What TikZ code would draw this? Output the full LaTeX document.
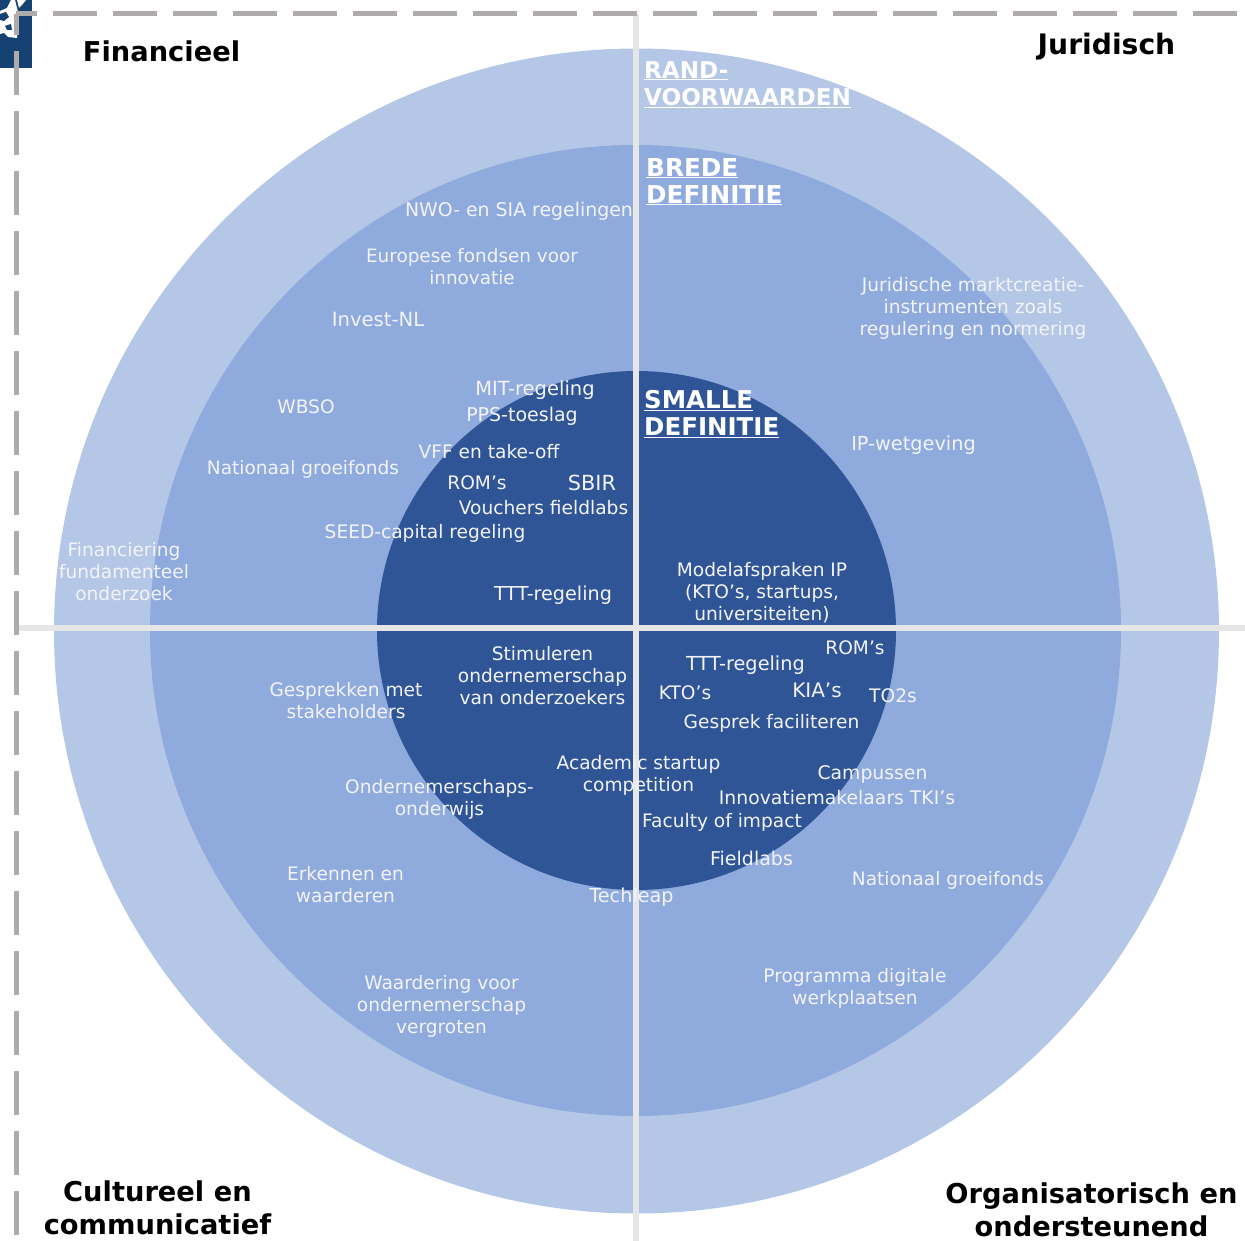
\documentclass[tikz,border=0pt]{standalone}
\usepackage{fontspec}
\setmainfont{DejaVu Sans}
\definecolor{outerc}{HTML}{B4C7E7}
\definecolor{midc}{HTML}{8FAADC}
\definecolor{innerc}{HTML}{2F5597}
\definecolor{axisc}{HTML}{E7E6E6}
\definecolor{dashc}{HTML}{AFABAB}
\definecolor{logoc}{HTML}{154273}
\definecolor{txtc}{HTML}{F2F4F9}
\tikzset{
  lbl/.style={text=txtc,align=center,inner sep=0pt,yshift=-1.2pt,font=\fontsize{18.6}{22}\selectfont},
  fs/.style={font=\fontsize{#1}{22}\selectfont},
  corner/.style={text=black,align=center,inner sep=0pt,font=\fontsize{27.3}{33}\selectfont\bfseries},
  head/.style={text=white,align=left,anchor=north west,inner sep=0pt,font=\fontsize{#1}{27}\selectfont\bfseries},
  axis/.style={draw=axisc,line width=5.5pt},
  frame/.style={draw=dashc,line width=5pt,dash pattern=on 44pt off 16pt,dash phase=23pt}
}
\begin{document}
\begin{tikzpicture}[x=1pt,y=-1pt]
\useasboundingbox (0,0) rectangle (1245,1241);
\fill[logoc] (0,0) rectangle (32,68);
\fill[white] (0,11) -- (7,8) -- (11,0) -- (15,0) -- (18,12) -- (17,38) -- (8,37) -- (4,33) -- (0,34) -- cycle;
\fill[white] (17,0) -- (26,0) -- (22,5) -- (19,8) -- cycle;
\fill[logoc] (0,14) -- (6,12) -- (9,17) -- (4,21) -- (0,20) -- cycle;
\fill[logoc] (5,26) -- (11,24) -- (12,30) -- (7,30) -- cycle;
\fill[outerc] (636.5,631) circle (582.5);
\fill[midc] (635.5,630.5) circle (485.5);
\fill[innerc] (636.5,630.5) circle (259.5);
\coordinate (top) at (636,14);
\coordinate (bot) at (636,1241);
\coordinate (lft) at (18,628);
\coordinate (rgt) at (1245,628);
\coordinate (corner) at (16,14);
\coordinate (frameb) at (16,1241);
\coordinate (framer) at (1245,14);
\draw[axis] (top) -- (bot);
\draw[axis] (lft) -- (rgt);
\draw[frame] (corner) -- (framer);
\draw[frame] (corner) -- (frameb);
\node[corner] (c1) at (161.5,51) {Financieel};
\node[corner,font=\fontsize{28.2}{33}\selectfont\bfseries] (c2) at (1106.5,46.5) {Juridisch};
\node[corner] (c3) at (157.5,1208) {Cultureel en\\communicatief};
\node[corner] (c4) at (1091.5,1210) {Organisatorisch en\\ondersteunend};
\node[head=23.1] (h1) at (644,61) {\underline{RAND-}\\\underline{VOORWAARDEN}};
\node[head=24.7] (h2) at (646,158) {\underline{BREDE}\\\underline{DEFINITIE}};
\node[head=24.5] (h3) at (644,390) {\underline{SMALLE}\\\underline{DEFINITIE}};
\node[lbl,fs=18.9] (a1) at (519,210) {NWO- en SIA regelingen};
\node[lbl,fs=18.4] (a2) at (472,265.5) {Europese fondsen voor\\innovatie};
\node[lbl,fs=19.6] (a3) at (378,318) {Invest-NL};
\node[lbl] (a4) at (306,406) {WBSO};
\node[lbl,fs=18.5] (a5) at (303,468) {Nationaal groeifonds};
\node[lbl] (a6) at (124,570) {Financiering\\fundamenteel\\onderzoek};
\node[lbl,fs=19.5] (a7) at (535,388.5) {MIT-regeling};
\node[lbl,fs=19] (a8) at (522,415) {PPS-toeslag};
\node[lbl] (a9) at (489,450) {VFF en take-off};
\node[lbl] (a10) at (477,482) {ROM’s};
\node[lbl,fs=20.8] (a11) at (592,482) {SBIR};
\node[lbl] (a12) at (543.5,506) {Vouchers fieldlabs};
\node[lbl] (a13) at (425,532) {SEED-capital regeling};
\node[lbl,fs=19.2] (a14) at (553,594) {TTT-regeling};
\node[lbl] (b1) at (973,307) {Juridische marktcreatie-\\instrumenten zoals\\regulering en normering};
\node[lbl,fs=19.3] (b2) at (913.5,443.5) {IP-wetgeving};
\node[lbl] (b3) at (762,591) {Modelafspraken IP\\(KTO’s, startups,\\universiteiten)};
\node[lbl] (c5) at (542.5,674.5) {Stimuleren\\ondernemerschap\\van onderzoekers};
\node[lbl] (c6) at (346,699) {Gesprekken met\\stakeholders};
\node[lbl] (c7) at (439.5,798.5) {Ondernemerschaps-\\onderwijs};
\node[lbl] (c8) at (638.5,774) {Academic startup\\competition};
\node[lbl] (c9) at (345.5,883.5) {Erkennen en\\waarderen};
\node[lbl] (c10) at (441.5,1005) {Waardering voor\\ondernemerschap\\vergroten};
\node[lbl,fs=19.2] (c11) at (631.5,895.5) {Techleap};
\node[lbl] (d1) at (855,647) {ROM’s};
\node[lbl,fs=19.3] (d2) at (745.5,664) {TTT-regeling};
\node[lbl] (d3) at (685,692) {KTO’s};
\node[lbl,fs=20] (d4) at (817,689) {KIA’s};
\node[lbl] (d5) at (893,695) {TO2s};
\node[lbl] (d6) at (771.5,722) {Gesprek faciliteren};
\node[lbl,fs=18.8] (d7) at (872.5,773) {Campussen};
\node[lbl,fs=18.8] (d8) at (837,796.5) {Innovatiemakelaars TKI’s};
\node[lbl] (d9) at (722,821) {Faculty of impact};
\node[lbl,fs=19] (d10) at (751.5,857.5) {Fieldlabs};
\node[lbl,fs=18.5] (d11) at (948,879) {Nationaal groeifonds};
\node[lbl] (d12) at (855,987) {Programma digitale\\werkplaatsen};
\end{tikzpicture}
\end{document}
